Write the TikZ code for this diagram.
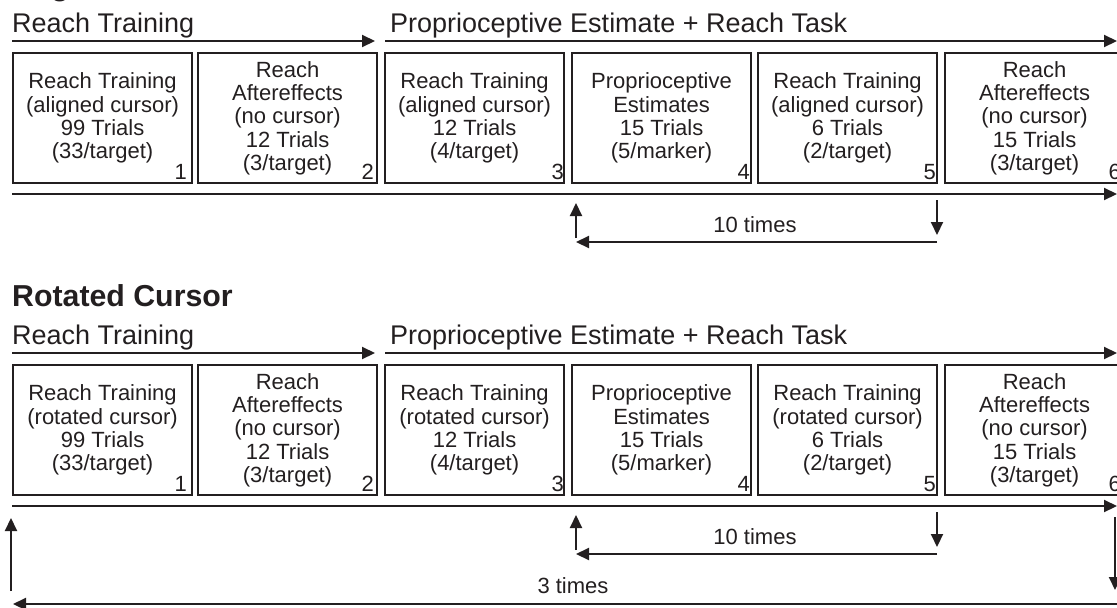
\documentclass[tikz,border=0pt]{standalone}
\usepackage{fontspec}
\setmainfont{Liberation Sans}
\usetikzlibrary{arrows.meta,calc}
\definecolor{ink}{RGB}{35,31,32}
\tikzset{
  stagebox/.style={draw=ink, line width=2.1pt, minimum width=179pt, minimum height=130pt,
    inner sep=0pt, align=center, font=\fontsize{22}{23.3}\selectfont, text=ink, anchor=north west},
  numlabel/.style={font=\fontsize{22}{23.3}\selectfont, text=ink, anchor=base east, inner sep=0pt},
  flow/.style={draw=ink, line width=2.1pt, -{Triangle[length=13pt,width=12pt]}},
  header/.style={font=\fontsize{27}{30}\selectfont, text=ink, anchor=base west, inner sep=0pt},
  paneltitle/.style={font=\bfseries\fontsize{30.3}{34}\selectfont, text=ink, anchor=base west, inner sep=0pt},
  looplabel/.style={font=\fontsize{22}{24}\selectfont, text=ink, anchor=base, inner sep=0pt},
}
\newcommand\phaserow[3]{%
 \begin{scope}[yshift=-#3pt]
  \node[header] (#1h1) at (12,32) {Reach Training};
  \node[header] (#1h2) at (390,32) {Proprioceptive Estimate + Reach Task};
  \coordinate (#1a1s) at (12,41); \coordinate (#1a1e) at (375,41);
  \draw[flow] (#1a1s) -- (#1a1e);
  \coordinate (#1a2s) at (385,41); \coordinate (#1a2e) at (1117,41);
  \draw[flow] (#1a2s) -- (#1a2e);
  \node[stagebox] (#1b1) at (12,52) {Reach Training\\(#2 cursor)\\99 Trials\\(33/target)};
  \node[stagebox] (#1b2) at (197,52) {Reach\\Aftereffects\\(no cursor)\\12 Trials\\(3/target)};
  \node[stagebox] (#1b3) at (384,52) {Reach Training\\(#2 cursor)\\12 Trials\\(4/target)};
  \node[stagebox] (#1b4) at (571,52) {Proprioceptive\\Estimates\\15 Trials\\(5/marker)};
  \node[stagebox] (#1b5) at (757,52) {Reach Training\\(#2 cursor)\\6 Trials\\(2/target)};
  \node[stagebox] (#1b6) at (944,52) {Reach\\Aftereffects\\(no cursor)\\15 Trials\\(3/target)};
  \node[numlabel] (#1n1) at ($(#1b1.south east)+(-6,-5)$) {1};
  \node[numlabel] (#1n2) at ($(#1b2.south east)+(-4,-5)$) {2};
  \node[numlabel] (#1n3) at ($(#1b3.south east)+(-1,-5)$) {3};
  \node[numlabel] (#1n4) at ($(#1b4.south east)+(-2,-5)$) {4};
  \node[numlabel] (#1n5) at ($(#1b5.south east)+(-2,-5)$) {5};
  \node[numlabel] (#1n6) at ($(#1b6.south east)+(-4,-5)$) {6};
  \coordinate (#1ls) at (12,194); \coordinate (#1le) at (1117,194);
  \draw[flow] (#1ls) -- (#1le);
  \coordinate (#1up1) at (576,238); \coordinate (#1up2) at (576,203);
  \draw[flow] (#1up1) -- (#1up2);
  \coordinate (#1dn1) at (937,200); \coordinate (#1dn2) at (937,235);
  \draw[flow] (#1dn1) -- (#1dn2);
  \coordinate (#1bk1) at (937,242); \coordinate (#1bk2) at (576,242);
  \draw[flow] (#1bk1) -- (#1bk2);
  \node[looplabel] (#1ten) at (755,232) {10 times};
 \end{scope}}
\begin{document}
\begin{tikzpicture}[x=1pt,y=-1pt]
  \useasboundingbox (0,0) rectangle (1117,608);
  \node[paneltitle] (atitle) at (12,-5) {Aligned Cursor};
  \phaserow{a}{aligned}{0}
  \node[paneltitle] (rtitle) at (12,306) {Rotated Cursor};
  \phaserow{r}{rotated}{312}
  \coordinate (rup1) at (11,591); \coordinate (rup2) at (11,518);
  \draw[flow] (rup1) -- (rup2);
  \coordinate (rdn1) at (1115,517); \coordinate (rdn2) at (1115,590);
  \draw[flow] (rdn1) -- (rdn2);
  \coordinate (rbk1) at (1117,604); \coordinate (rbk2) at (13,604);
  \draw[flow] (rbk1) -- (rbk2);
  \node[looplabel] (rthree) at (573,593) {3 times};
\end{tikzpicture}
\end{document}
